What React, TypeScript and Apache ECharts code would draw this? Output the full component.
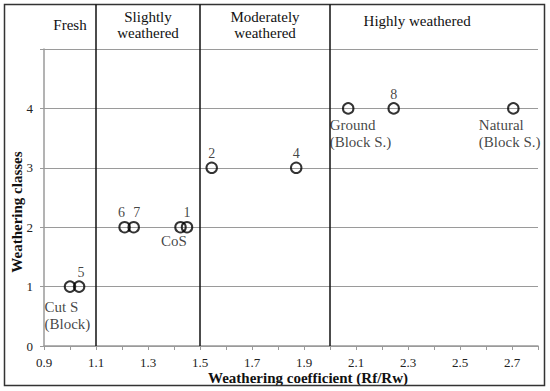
import React, { useEffect, useRef } from "react";
import * as echarts from "echarts";

// ---- data ----
const coefficient = [1.0, 1.035, 1.21, 1.245, 1.425, 1.45, 1.545, 1.87, 2.07, 2.245, 2.705];
const weatheringClass = [1, 1, 2, 2, 2, 2, 3, 3, 4, 4, 4];
const sampleIds = ["", "5", "6", "7", "", "1", "2", "4", "", "8", ""];

const noteTexts = ["Cut S\n(Block)", "CoS", "Ground\n(Block S.)", "Natural\n(Block S.)"];
const noteCoefficient = [1.0, 1.425, 2.07, 2.705];
const noteClass = [1, 2, 4, 4];

const zoneNames = ["Fresh", "Slightly\nweathered", "Moderately\nweathered", "Highly weathered"];
const zoneBounds = [1.1, 1.5, 2.0];

const xMin = 0.9;
const xMax = 2.8;
const xStep = 0.1;
const yMin = 0;
const yMax = 5;
const yStep = 1;

// ---- layout / style (not data) ----
const FONT = "'Liberation Serif', 'Times New Roman', Times, serif";
const TEXT = "#111111";
const noteOffsets: [number, number][] = [
  [-25, 12],
  [-19, 6],
  [-18, 9],
  [-34, 9],
];
const sampleLabelOffsets: [number, number][] = [
  [0, 0], [2, 0], [-3, 0], [3, 0], [0, 0], [0, 0], [0, 0], [0, 0], [0, 0], [0, 0], [0, 0],
];
const zoneCenters = [1.0, 1.3, 1.75, 2.335];
const zoneCenterY = [25, 25, 25, 21];

export default function App() {
  const ref = useRef<HTMLDivElement>(null);

  useEffect(() => {
    if (!ref.current) return;
    const chart = echarts.init(ref.current, null, { renderer: "svg" });

    const points = coefficient.map((x, i) => ({
      value: [x, weatheringClass[i]],
      label: {
        show: sampleIds[i] !== "",
        formatter: sampleIds[i],
        position: "top",
        distance: 1,
        offset: sampleLabelOffsets[i],
        color: TEXT,
        textBorderWidth: 0,
      },
    }));

    const notes = noteTexts.map((t, i) => ({
      value: [noteCoefficient[i], noteClass[i]],
      label: {
        show: true,
        formatter: t,
        position: noteOffsets[i],
        align: "left",
        verticalAlign: "top",
        color: TEXT,
        textBorderWidth: 0,
      },
    }));

    const gray = "#9a9a9a";

    const option: any = {
      animation: false,
      backgroundColor: "#ffffff",
      textStyle: { fontFamily: FONT },
      grid: {
        left: 44,
        right: 12,
        top: 49,
        bottom: 45,
        containLabel: false,
        outerBoundsMode: "none",
      },
      xAxis: {
        type: "value",
        min: xMin,
        max: xMax,
        interval: xStep,
        name: "Weathering coefficient (Rf/Rw)",
        nameLocation: "middle",
        nameGap: 24,
        nameMoveOverlap: false,
        nameTextStyle: {
          fontFamily: FONT,
          fontWeight: "bold",
          fontSize: 15,
          color: TEXT,
          padding: [0, 0, 0, 34],
        },
        axisLine: { show: true, onZero: false, lineStyle: { color: gray, width: 1.5 } },
        axisTick: { show: true, length: 4, inside: false, lineStyle: { color: gray } },
        axisLabel: {
          fontFamily: FONT,
          fontSize: 13,
          color: "#222",
          margin: 10,
          formatter: (v: number) => (Math.round(v * 10) % 2 === 1 ? v.toFixed(1) : ""),
        },
        splitLine: { show: false },
      },
      yAxis: {
        type: "value",
        min: yMin,
        max: yMax,
        interval: yStep,
        name: "Weathering classes",
        nameLocation: "middle",
        nameGap: 20,
        nameMoveOverlap: false,
        nameTextStyle: {
          fontFamily: FONT,
          fontWeight: "bold",
          fontSize: 15,
          color: TEXT,
          padding: [0, 29, 0, 0],
        },
        axisLine: { show: true, onZero: false, lineStyle: { color: gray, width: 1.5 } },
        axisTick: { show: true, length: 4, inside: false, lineStyle: { color: gray } },
        axisLabel: {
          fontFamily: FONT,
          fontSize: 13,
          color: "#222",
          margin: 11,
          formatter: (v: number) => (v === yMax ? "" : String(v)),
        },
        splitLine: { show: true, lineStyle: { color: gray, width: 1.2 } },
      },
      series: [
        {
          type: "scatter",
          symbol: "circle",
          symbolSize: 10.5,
          itemStyle: { color: "rgba(255,255,255,0)", borderColor: "#000", borderWidth: 2 },
          label: { fontFamily: FONT, fontSize: 14, color: TEXT },
          emphasis: { disabled: true },
          data: points,
          z: 5,
        },
        {
          type: "scatter",
          symbolSize: 1,
          itemStyle: { color: "rgba(0,0,0,0)" },
          label: { fontFamily: FONT, fontSize: 15, color: TEXT, lineHeight: 17 },
          emphasis: { disabled: true },
          data: notes,
          z: 4,
        },
      ],
    };

    chart.setOption(option);

    const xp = (v: number) => chart.convertToPixel({ xAxisIndex: 0 }, v) as number;
    const yp = (v: number) => chart.convertToPixel({ yAxisIndex: 0 }, v) as number;
    const bottom = yp(yMin);

    const graphics: any[] = [
      {
        type: "rect",
        shape: { x: 4.5, y: 4.5, width: 540, height: 381 },
        style: { fill: "none", stroke: "#333", lineWidth: 1.5 },
        z: 10,
      },
      ...zoneBounds.map((b) => ({
        type: "line",
        shape: { x1: xp(b), y1: 4.5, x2: xp(b), y2: bottom },
        style: { stroke: "#111", lineWidth: 1.5 },
        z: 10,
      })),
      ...zoneNames.map((name, i) => ({
        type: "text",
        x: xp(zoneCenters[i]),
        y: zoneCenterY[i],
        style: {
          text: name,
          fontFamily: FONT,
          fontSize: 15,
          align: "center",
          verticalAlign: "middle",
          lineHeight: 16,
          fill: TEXT,
        },
        z: 10,
      })),
    ];

    chart.setOption({ graphic: graphics });

    return () => chart.dispose();
  }, []);

  return (
    <div
      ref={ref}
      style={{ position: "fixed", left: 0, top: 0, width: 550, height: 391, background: "#fff" }}
    />
  );
}
